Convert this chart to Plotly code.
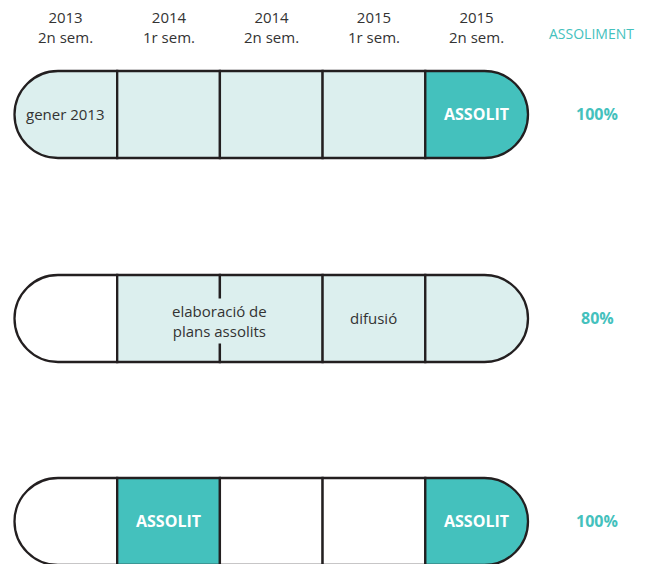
import plotly.graph_objects as go

# Data
periods = ["2013<br>2n sem.", "2014<br>1r sem.", "2014<br>2n sem.", "2015<br>1r sem.", "2015<br>2n sem."]
row1_status = ["light", "light", "light", "light", "done"]
row2_status = ["empty", "light", "light", "light", "light"]
row3_status = ["empty", "done", "empty", "empty", "done"]
row1_labels = ["gener 2013", "", "", "", "ASSOLIT"]
row2_labels = ["", "", "", "difusió", ""]
row3_labels = ["", "ASSOLIT", "", "", "ASSOLIT"]
row2_span_label = "elaboració de<br>plans assolits"
achievement = ["100%", "80%", "100%"]

# Layout / style (page body has an 8px margin, so the figure is offset)
W, H = 646, 564
PAGE_MARGIN = 8
LEFT, CELL_W = 14.5, 102.7
ROW_TOP = [71, 275, 478]
ROW_H = 87
K = 0.5523
OUTLINE = "#231F20"
TEAL = "#44C1BD"
LIGHT = "#DCEFEE"
TEXT = "#333333"
FONT = "Open Sans"
FILLS = {"light": LIGHT, "done": TEAL, "empty": "#FFFFFF"}

fig = go.Figure()
fig.add_trace(go.Scatter(x=[PAGE_MARGIN + 1], y=[PAGE_MARGIN + 1], mode="markers",
                         marker=dict(opacity=0), hoverinfo="skip", showlegend=False))


def cell_path(i, top):
    x0 = LEFT + i * CELL_W
    x1 = x0 + CELL_W
    bot = top + ROW_H
    r = ROW_H / 2
    cy = top + r
    if i == 0:
        a = x0 + r
        return (f"M {x1},{top} L {a},{top} "
                f"C {a - K * r},{top} {x0},{cy - K * r} {x0},{cy} "
                f"C {x0},{cy + K * r} {a - K * r},{bot} {a},{bot} "
                f"L {x1},{bot} Z")
    if i == len(periods) - 1:
        a = x1 - r
        return (f"M {x0},{top} L {a},{top} "
                f"C {a + K * r},{top} {x1},{cy - K * r} {x1},{cy} "
                f"C {x1},{cy + K * r} {a + K * r},{bot} {a},{bot} "
                f"L {x0},{bot} Z")
    return f"M {x0},{top} L {x1},{top} L {x1},{bot} L {x0},{bot} Z"


rows = [(row1_status, row1_labels), (row2_status, row2_labels), (row3_status, row3_labels)]
for r_idx, (status, labels) in enumerate(rows):
    top = ROW_TOP[r_idx]
    cy = top + ROW_H / 2
    for i, s in enumerate(status):
        fig.add_shape(type="path", path=cell_path(i, top), xref="x", yref="y",
                      fillcolor=FILLS[s], line=dict(color=OUTLINE, width=2.3), layer="above")
        if labels[i]:
            done = s == "done"
            fig.add_annotation(x=LEFT + (i + 0.5) * CELL_W, y=cy - 1, text=labels[i], showarrow=False,
                               font=dict(family=FONT, size=16 if done else 15,
                                         color="white" if done else TEXT,
                                         weight="bold" if done else "normal"))
    fig.add_annotation(x=597, y=cy - 1, text=achievement[r_idx], showarrow=False,
                       font=dict(family=FONT, size=16, color=TEAL, weight="bold"))

fig.add_annotation(x=LEFT + 2 * CELL_W, y=ROW_TOP[1] + ROW_H / 2 + 2, text=row2_span_label, showarrow=False,
                   bgcolor=LIGHT, borderpad=2,
                   font=dict(family=FONT, size=15, color=TEXT))

for i, p in enumerate(periods):
    fig.add_annotation(x=LEFT + (i + 0.5) * CELL_W, y=27, text=p, showarrow=False,
                       font=dict(family=FONT, size=15, color=TEXT))
fig.add_annotation(x=636, y=33, xanchor="right", text="ASSOLIMENT", showarrow=False,
                   font=dict(family=FONT, size=14, color=TEAL))

fig.update_xaxes(range=[PAGE_MARGIN, W], visible=False, fixedrange=True)
fig.update_yaxes(range=[H, PAGE_MARGIN], visible=False, fixedrange=True)
fig.update_layout(width=W - PAGE_MARGIN, height=H - PAGE_MARGIN, margin=dict(l=0, r=0, t=0, b=0),
                  plot_bgcolor="white", paper_bgcolor="white", showlegend=False)

fig.write_html("out.html")
